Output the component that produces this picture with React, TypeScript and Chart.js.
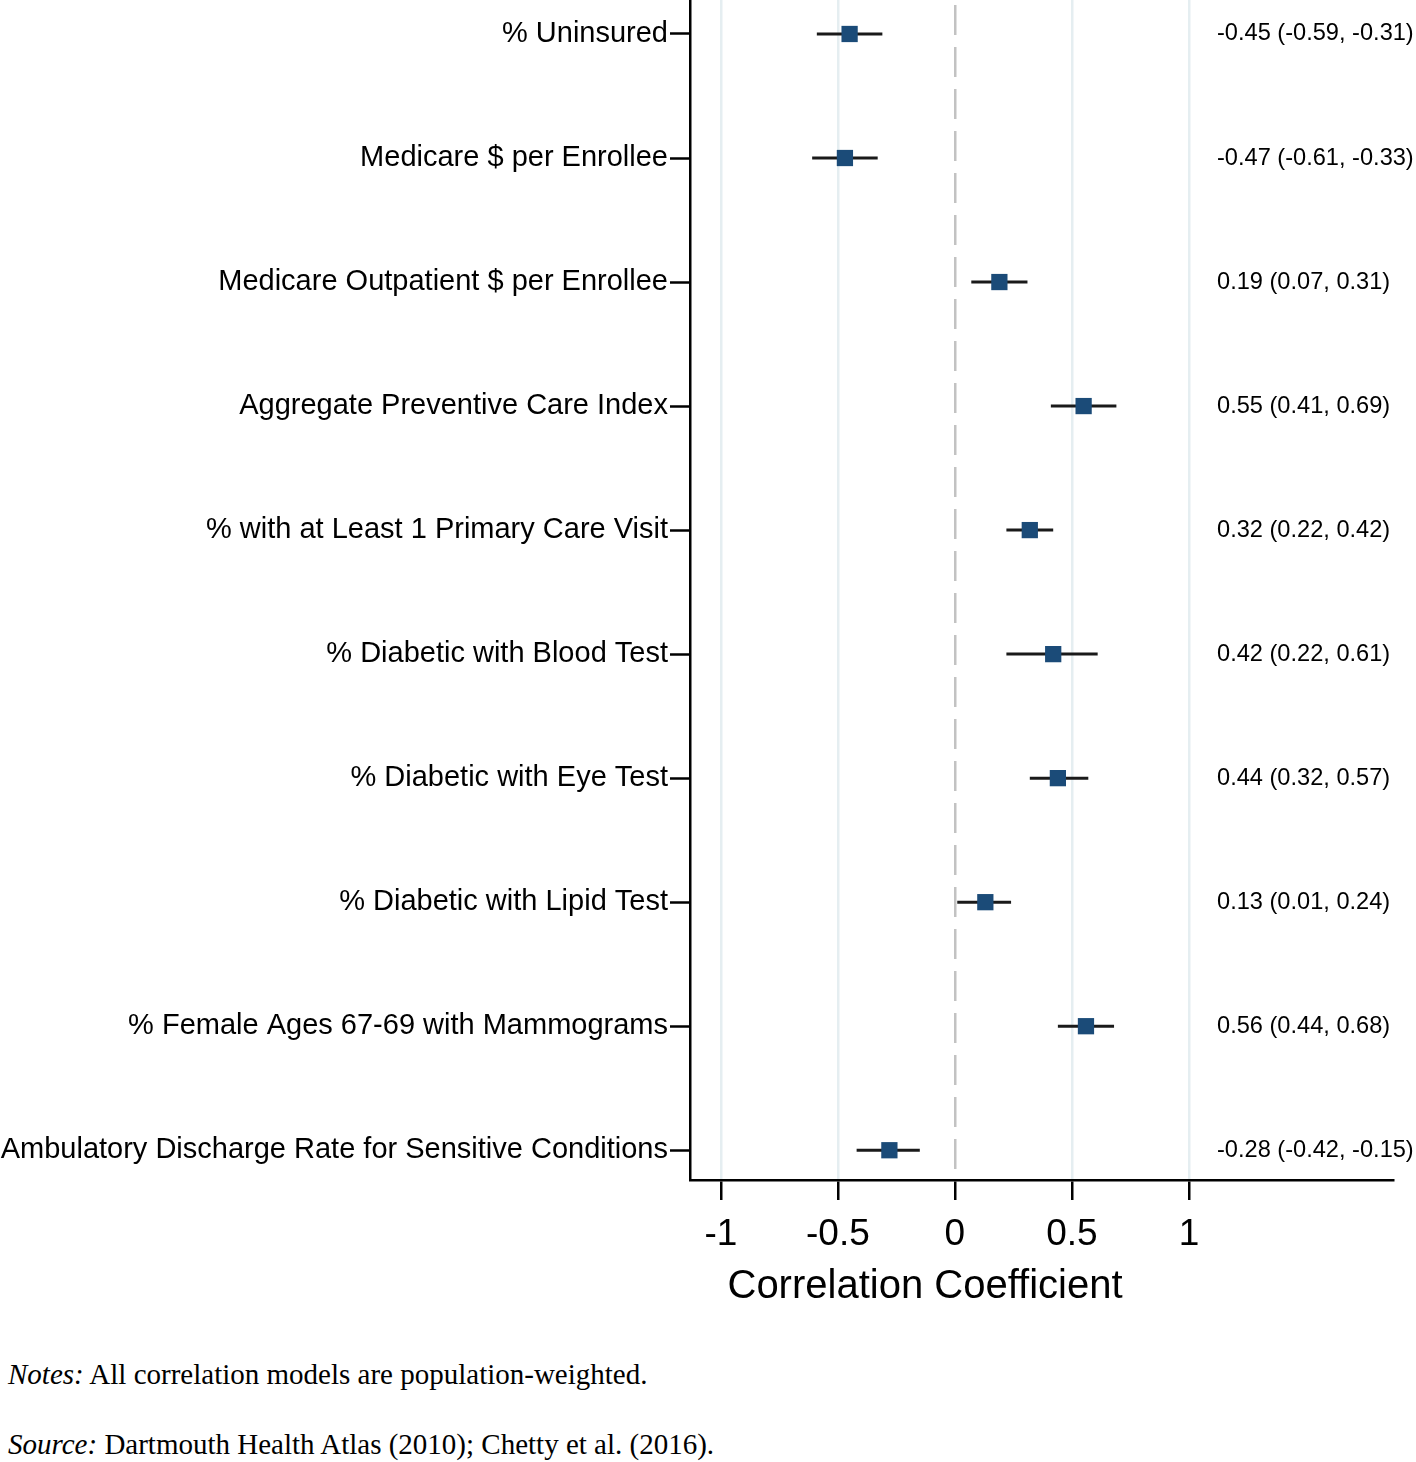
import React, { useEffect, useRef } from "react";
import { Chart, registerables } from "chart.js";

Chart.register(...registerables);

const categories = [
  "% Uninsured",
  "Medicare $ per Enrollee",
  "Medicare Outpatient $ per Enrollee",
  "Aggregate Preventive Care Index",
  "% with at Least 1 Primary Care Visit",
  "% Diabetic with Blood Test",
  "% Diabetic with Eye Test",
  "% Diabetic with Lipid Test",
  "% Female Ages 67-69 with Mammograms",
  "Ambulatory Discharge Rate for Sensitive Conditions",
];
const estimates = [-0.45, -0.47, 0.19, 0.55, 0.32, 0.42, 0.44, 0.13, 0.56, -0.28];
const lowerCI = [-0.59, -0.61, 0.07, 0.41, 0.22, 0.22, 0.32, 0.01, 0.44, -0.42];
const upperCI = [-0.31, -0.33, 0.31, 0.69, 0.42, 0.61, 0.57, 0.24, 0.68, -0.15];
const xTicks = [-1, -0.5, 0, 0.5, 1];
const xTitle = "Correlation Coefficient";
const annotationX = 1.12;

const SANS = '"Liberation Sans", Arial, Helvetica, sans-serif';
const SERIF = '"Liberation Serif", "Times New Roman", Times, serif';

const fmt = (v: number) => v.toFixed(2);

const annotatePlugin = {
  id: "annotate",
  afterDatasetsDraw(chart: any) {
    const { ctx, scales, chartArea } = chart;
    const xs = scales.x;
    const ys = scales.y;
    ctx.save();
    ctx.fillStyle = "#000";
    ctx.font = `23.6px ${SANS}`;
    ctx.textAlign = "left";
    ctx.textBaseline = "middle";
    categories.forEach((_, i) => {
      const txt = `${fmt(estimates[i])} (${fmt(lowerCI[i])}, ${fmt(upperCI[i])})`;
      ctx.fillText(txt, xs.getPixelForValue(annotationX), ys.getPixelForValue(i));
    });
    ctx.font = `40px ${SANS}`;
    ctx.textAlign = "center";
    ctx.fillText(xTitle, chartArea.left + 235, chartArea.bottom + 107);
    ctx.restore();
  },
};

export default function App() {
  const ref = useRef<HTMLCanvasElement | null>(null);

  useEffect(() => {
    if (!ref.current) return;
    const whiskers = categories.map((_, i) => ({
      type: "line" as const,
      data: [
        { x: lowerCI[i], y: i },
        { x: upperCI[i], y: i },
      ],
      borderColor: "#1a1a1a",
      borderWidth: 3,
      pointRadius: 0,
      showLine: true,
      order: 1,
    }));
    const chart = new Chart(ref.current, {
      type: "scatter",
      data: {
        datasets: [
          {
            data: estimates.map((v, i) => ({ x: v, y: i })),
            pointStyle: "rect",
            pointRadius: 11.5,
            backgroundColor: "#1b4b78",
            borderWidth: 0,
            order: 0,
          } as any,
          ...whiskers,
        ],
      },
      options: {
        responsive: false,
        animation: false,
        events: [],
        layout: { autoPadding: false, padding: { left: 0, right: 23, top: 0, bottom: 0 } },
        plugins: { legend: { display: false }, tooltip: { enabled: false } },
        scales: {
          x: {
            type: "linear",
            min: -1.132,
            max: 1.872,
            afterBuildTicks: (s: any) => {
              s.ticks = xTicks.map((v) => ({ value: v }));
            },
            afterFit: (s: any) => {
              s.height = 140;
              s.paddingLeft = 0;
              s.paddingRight = 0;
            },
            ticks: {
              font: { family: SANS, size: 37 },
              color: "#000",
              padding: 13,
              maxRotation: 0,
              autoSkip: false,
              callback: (v: any) => String(v),
            },
            grid: {
              color: (c: any) => (c.tick && c.tick.value === 0 ? "#c2c2c2" : "#e5eef1"),
              lineWidth: 2.5,
              tickColor: "#000",
              tickWidth: 2.5,
              tickLength: 20,
              drawTicks: true,
            },
            border: {
              display: true,
              color: "#000",
              width: 2.5,
              dash: (c: any) => (c.tick && c.tick.value === 0 ? [30, 12] : []),
              dashOffset: (c: any) => (c.tick && c.tick.value === 0 ? -5 : 0),
            },
          },
          y: {
            type: "linear",
            reverse: true,
            min: -0.274,
            max: 9.24,
            afterBuildTicks: (s: any) => {
              s.ticks = categories.map((_, i) => ({ value: i }));
            },
            afterFit: (s: any) => {
              s.width = 690;
              s.paddingTop = 0;
              s.paddingBottom = 0;
            },
            ticks: {
              font: { family: SANS, size: 29 },
              color: "#000",
              padding: 2,
              autoSkip: false,
              callback: (v: any) => categories[v] ?? "",
            },
            grid: {
              drawOnChartArea: false,
              drawTicks: true,
              tickLength: 20,
              tickColor: "#000",
              tickWidth: 2.5,
            },
            border: { display: true, color: "#000", width: 2.5 },
          },
        },
      },
      plugins: [annotatePlugin],
    } as any);
    return () => chart.destroy();
  }, []);

  return (
    <div style={{ position: "absolute", left: 0, top: 0, width: 1416, height: 1462, background: "#fff" }}>
      <canvas ref={ref} width={1416} height={1320} style={{ position: "absolute", left: 0, top: 0, width: 1416, height: 1320 }} />
      <div style={{ position: "absolute", left: 8, top: 1358, fontFamily: SERIF, fontSize: 29, lineHeight: "32px", color: "#000", whiteSpace: "nowrap" }}>
        <i>Notes:</i> All correlation models are population-weighted.
      </div>
      <div style={{ position: "absolute", left: 8, top: 1428, fontFamily: SERIF, fontSize: 29, lineHeight: "32px", color: "#000", whiteSpace: "nowrap" }}>
        <i>Source:</i> Dartmouth Health Atlas (2010); Chetty et al. (2016).
      </div>
    </div>
  );
}
